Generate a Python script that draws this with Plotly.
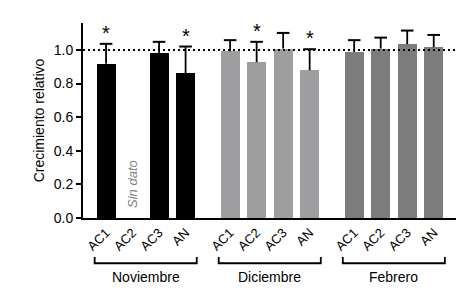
import plotly.graph_objects as go

groups = ["Noviembre", "Diciembre", "Febrero"]
samples = ["AC1", "AC2", "AC3", "AN"]
values = {
    "Noviembre": [0.917, None, 0.982, 0.860],
    "Diciembre": [0.992, 0.927, 1.008, 0.879],
    "Febrero": [0.988, 1.008, 1.034, 1.016],
}
errors = {
    "Noviembre": [0.119, None, 0.066, 0.160],
    "Diciembre": [0.066, 0.121, 0.093, 0.125],
    "Febrero": [0.070, 0.065, 0.081, 0.073],
}
stars = {
    "Noviembre": [True, False, False, True],
    "Diciembre": [False, True, False, True],
    "Febrero": [False, False, False, False],
}
colors = {"Noviembre": "#000000", "Diciembre": "#9e9ea1", "Febrero": "#7c7c7c"}
group_gap = 0.68
reference_level = 1.0

FONT = "Liberation Sans, Arial, Helvetica, sans-serif"

fig = go.Figure()
tickvals, ticktext = [], []
err_x, err_y, cap_x, cap_y, star_x, star_y = [], [], [], [], [], []
group_spans = []
for gi, g in enumerate(groups):
    base = gi * (len(samples) + group_gap)
    xs = [base + i for i in range(len(samples))]
    group_spans.append((xs[0], xs[-1]))
    tickvals += xs
    ticktext += samples
    fig.add_trace(go.Bar(x=xs, y=values[g], marker=dict(color=colors[g], line_width=0),
                         width=0.72, showlegend=False, hoverinfo="skip"))
    for x, v, e, s in zip(xs, values[g], errors[g], stars[g]):
        if v is None:
            continue
        err_x += [x, x, None]
        err_y += [v, v + e, None]
        cap_x.append(x)
        cap_y.append(v + e)
        if s:
            star_x.append(x)
            star_y.append(v + e)

fig.add_trace(go.Scatter(x=err_x, y=err_y, mode="lines", line=dict(color="black", width=1.8),
                         showlegend=False, hoverinfo="skip"))
fig.add_trace(go.Scatter(x=cap_x, y=cap_y, mode="markers",
                         marker=dict(symbol="line-ew", size=9, line=dict(color="black", width=2)),
                         showlegend=False, hoverinfo="skip"))
for sx, sy in zip(star_x, star_y):
    fig.add_annotation(x=sx, y=sy, xref="x", yref="y", text="*", showarrow=False,
                       yanchor="middle", yshift=11, font=dict(size=20, color="black", family=FONT))

# reference dotted line
fig.add_shape(type="line", xref="paper", yref="y", x0=0, x1=1, y0=reference_level, y1=reference_level,
              line=dict(color="black", width=2, dash="2px,3px"), layer="above")

# brackets and group labels
for (x0, x1), g in zip(group_spans, groups):
    fig.add_shape(type="path", xref="x", yref="paper",
                  path=f"M {x0-0.43},-0.2 L {x0-0.43},-0.232 L {x1+0.42},-0.232 L {x1+0.42},-0.2",
                  line=dict(color="black", width=1.8))
    fig.add_annotation(x=(x0 + x1) / 2, y=-0.305, xref="x", yref="paper", text=g, showarrow=False,
                       font=dict(size=14, color="black", family=FONT), yanchor="middle")

fig.add_annotation(x=1, y=0.2, xref="x", yref="y", text="<i>Sin dato</i>", textangle=-90,
                   showarrow=False, font=dict(size=13, color="#808080", family=FONT))

# page body has an 8px default margin, so the figure is offset by (8, 8)
fig.update_layout(
    width=449, height=283,
    margin=dict(l=75, r=1, t=15, b=73, autoexpand=False),
    plot_bgcolor="white", paper_bgcolor="white",
    font=dict(family=FONT, color="black"),
    bargap=0,
    xaxis=dict(range=[-0.87, 13.2], tickvals=tickvals, ticktext=ticktext, tickangle=-45,
               showline=True, linecolor="black", linewidth=2, ticks="", showgrid=False,
               zeroline=False, automargin=False, tickfont=dict(size=13, color="black")),
    yaxis=dict(range=[0, 1.16], tickvals=[0, 0.2, 0.4, 0.6, 0.8, 1.0],
               ticktext=["0.0", "0.2", "0.4", "0.6", "0.8", "1.0"],
               showline=True, linecolor="black", linewidth=2, ticks="outside", ticklen=5,
               tickwidth=2, tickcolor="black", showgrid=False, zeroline=False, automargin=False,
               tickfont=dict(size=14, color="black"),
               title=dict(text="Crecimiento relativo", font=dict(size=14, color="black"), standoff=6)),
)

fig.write_html("out.html")
